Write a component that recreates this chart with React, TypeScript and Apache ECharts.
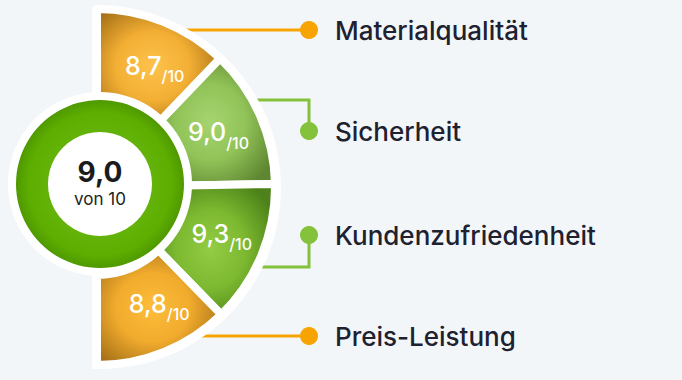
import React, { useEffect, useRef } from 'react';
import * as echarts from 'echarts';

// ---- data ----
const categories = ['Materialqualität', 'Sicherheit', 'Kundenzufriedenheit', 'Preis-Leistung'];
const scores = [8.7, 9.0, 9.3, 8.8];
const overallScore = 9.0;
const maxScore = 10;
const overallLabel = 'von 10';

// ---- styles / layout ----
const sectorColors = [
  { inner: '#fdc24c', mid: '#f3af34', outer: '#a87218' },
  { inner: '#a6d470', mid: '#91c358', outer: '#5f8731' },
  { inner: '#93cc45', mid: '#7cb830', outer: '#4c8219' },
  { inner: '#fdbd3a', mid: '#f1ab2d', outer: '#a67218' },
];
const labelShift = [
  [7, 8],
  [-3, 3],
  [-1, -2],
  [11, -6],
];
const lineColors = ['#f7a400', '#84c23b', '#84c23b', '#f7a400'];
const dotX = 309;
const legendY = [30, 131, 235, 336];
const elbowY = [30, 100, 267, 336];
const lineStartX = [150, 240, 240, 150];

const fmt = (v: number) => v.toFixed(1).replace('.', ',');
const FONT = 'Inter, Roboto, "Noto Sans", sans-serif';

export default function App() {
  const ref = useRef<HTMLDivElement>(null);

  useEffect(() => {
    if (!ref.current) return;
    const chart = echarts.init(ref.current, undefined, { renderer: 'svg' });

    const graphics: any[] = [
      {
        type: 'rect',
        z: 1,
        shape: { x: 92, y: 7, width: 10, height: 362 },
        style: { fill: '#ffffff' },
        silent: true,
      },
      {
        type: 'sector',
        z: 1,
        shape: { cx: 100, cy: 188, r: 181, r0: 0, startAngle: -Math.PI / 2, endAngle: Math.PI / 2, clockwise: true },
        style: { fill: '#ffffff' },
        silent: true,
      },
    ];

    categories.forEach((name, i) => {
      const pts =
        elbowY[i] === legendY[i]
          ? [[lineStartX[i], legendY[i]], [dotX, legendY[i]]]
          : [[lineStartX[i], elbowY[i]], [dotX, elbowY[i]], [dotX, legendY[i]]];
      graphics.push({
        type: 'polyline',
        z: 0,
        shape: { points: pts },
        style: { stroke: lineColors[i], lineWidth: 3, fill: 'none' },
        silent: true,
      });
      graphics.push({
        type: 'circle',
        z: 5,
        shape: { cx: dotX, cy: legendY[i], r: 9 },
        style: { fill: lineColors[i] },
        silent: true,
      });
      graphics.push({
        type: 'text',
        z: 5,
        x: 335,
        y: legendY[i],
        style: {
          text: name,
          font: `500 26px ${FONT}`,
          fill: '#20212f',
          verticalAlign: 'middle',
          align: 'left',
        },
        silent: true,
      });
    });

    const option: any = {
      animation: false,
      backgroundColor: '#f3f6f9',
      textStyle: { fontFamily: FONT },
      graphic: { elements: graphics },
      series: [
        {
          type: 'pie',
          name: 'ratings',
          z: 2,
          silent: true,
          center: [97, 187],
          radius: [88, 178],
          startAngle: 90,
          endAngle: -90,
          clockwise: true,
          avoidLabelOverlap: false,
          itemStyle: { borderColor: '#ffffff', borderWidth: 8 },
          label: {
            show: true,
            position: 'inside',
            formatter: (p: any) => `{v|${fmt(p.value)}}{s|/${maxScore}}`,
            rich: {
              v: { fontSize: 25, fontWeight: 500, color: '#ffffff', fontFamily: FONT, verticalAlign: 'bottom', padding: [0, 0, 6, 0] },
              s: { fontSize: 16, fontWeight: 500, color: '#ffffff', fontFamily: FONT, verticalAlign: 'bottom' },
            },
          },
          labelLayout: (p: any) => ({ dx: labelShift[p.dataIndex][0], dy: labelShift[p.dataIndex][1] }),
          labelLine: { show: false },
          data: scores.map((v, i) => ({
            name: categories[i],
            value: v,
            itemStyle: {
              color: new echarts.graphic.RadialGradient(0.45, 0.5, 0.6, [
                { offset: 0, color: sectorColors[i].inner },
                { offset: 0.5, color: sectorColors[i].mid },
                { offset: 1, color: sectorColors[i].outer },
              ]),
            },
          })),
        },
        {
          type: 'pie',
          name: 'disc',
          z: 3,
          silent: true,
          center: [100, 184],
          radius: [0, 92],
          label: { show: false },
          labelLine: { show: false },
          itemStyle: { color: '#ffffff' },
          data: [{ value: 1, name: '' }],
        },
        {
          type: 'pie',
          name: 'overall',
          z: 4,
          silent: true,
          center: [100, 184],
          radius: [52, 84],
          label: {
            show: true,
            position: 'center',
            formatter: (p: any) => `{a|${fmt(p.value)}}\n{b|${overallLabel}}`,
            rich: {
              a: { fontSize: 28, fontWeight: 'bold', color: '#1b1b1d', fontFamily: FONT, lineHeight: 30 },
              b: { fontSize: 17, color: '#222222', fontFamily: FONT, lineHeight: 24 },
            },
          },
          labelLine: { show: false },
          data: [
            {
              value: overallScore,
              name: 'Gesamt',
              itemStyle: {
                color: new echarts.graphic.RadialGradient(0.5, 0.5, 0.5, [
                  { offset: 0.6, color: '#64b30a' },
                  { offset: 0.85, color: '#5dae00' },
                  { offset: 1, color: '#4f9900' },
                ]),
              },
            },
          ],
        },
      ],
    };

    chart.setOption(option);
    return () => chart.dispose();
  }, []);

  return (
    <div
      ref={ref}
      style={{ position: 'fixed', left: 0, top: 0, width: 682, height: 380 }}
    />
  );
}
